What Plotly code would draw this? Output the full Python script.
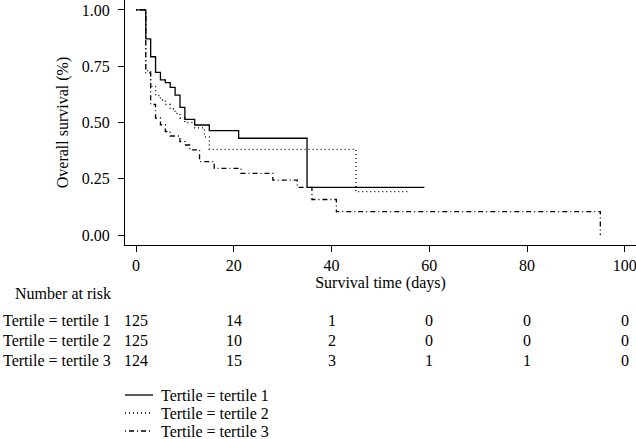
import plotly.graph_objects as go

# Kaplan-Meier step data (time in days, survival probability)
t1_time = [0, 2, 3, 4, 5, 6, 7, 8, 9, 10, 12, 15, 21, 35, 59]
t1_surv = [1.0, 0.871, 0.792, 0.723, 0.689, 0.677, 0.656, 0.622, 0.567, 0.514, 0.489, 0.464, 0.430, 0.212, 0.212]

t2_time = [0, 2, 3, 4, 5, 6, 7, 8, 9, 10, 12, 14, 15, 45, 56]
t2_surv = [1.0, 0.73, 0.66, 0.62, 0.60, 0.58, 0.56, 0.54, 0.52, 0.50, 0.476, 0.436, 0.381, 0.193, 0.193]

t3_time = [0, 2, 3, 4, 5, 6, 7, 9, 10, 11, 13, 16, 21.5, 28, 33, 36, 41, 95, 95]
t3_surv = [1.0, 0.72, 0.58, 0.52, 0.49, 0.46, 0.44, 0.415, 0.40, 0.378, 0.326, 0.296, 0.274, 0.244, 0.212, 0.158, 0.104, 0.104, 0.0]

series_names = ["Tertile = tertile 1", "Tertile = tertile 2", "Tertile = tertile 3"]

# Number at risk table
risk_times = [0, 20, 40, 60, 80, 100]
risk_t1 = [125, 14, 1, 0, 0, 0]
risk_t2 = [125, 10, 2, 0, 0, 0]
risk_t3 = [124, 15, 3, 1, 1, 0]

x_ticks = [0, 20, 40, 60, 80, 100]
y_ticks = [0.0, 0.25, 0.5, 0.75, 1.0]
y_ticktext = ["0.00", "0.25", "0.50", "0.75", "1.00"]

FONT = "Liberation Serif"
FS = 16

W, H = 636, 439
ml, mr, mt, mb = 125, 0, 0, 194
plot_h = H - mt - mb
plot_w = W - ml - mr

def ypix_to_paper(py):
    return (H - mb - py) / plot_h

def xpix_to_paper(px):
    return (px - ml) / plot_w

fig = go.Figure()
styles = [
    dict(color="black", width=1.3, dash="solid"),
    dict(color="black", width=1.3, dash="1px,3px"),
    dict(color="black", width=1.3, dash="1px,3px,5px,3px"),
]
for name, tt, ss, st in zip(series_names, [t1_time, t2_time, t3_time],
                            [t1_surv, t2_surv, t3_surv], styles):
    fig.add_trace(go.Scatter(x=tt, y=ss, mode="lines", line_shape="hv",
                             line=st, name=name, hoverinfo="skip", showlegend=False))

annotations = []
shapes = []
annotations.append(dict(x=xpix_to_paper(113), xref="paper", xanchor="right",
                        y=ypix_to_paper(293), yref="paper", yanchor="middle",
                        text="Number at risk", showarrow=False,
                        font=dict(family=FONT, size=FS, color="black")))
row_y = [320, 340, 360]
for name, vals, py in zip(series_names, [risk_t1, risk_t2, risk_t3], row_y):
    annotations.append(dict(x=xpix_to_paper(113), xref="paper", xanchor="right",
                            y=ypix_to_paper(py), yref="paper", yanchor="middle",
                            text=name, showarrow=False,
                            font=dict(family=FONT, size=FS, color="black")))
    for t, v in zip(risk_times, vals):
        annotations.append(dict(x=t, xref="x", xanchor="center",
                                y=ypix_to_paper(py), yref="paper", yanchor="middle",
                                text=str(v), showarrow=False,
                                font=dict(family=FONT, size=FS, color="black")))

# Legend (drawn manually to match compact spacing)
leg_y = [395, 413, 431]
for name, st, py in zip(series_names, styles, leg_y):
    shapes.append(dict(type="line", xref="paper", yref="paper",
                       x0=xpix_to_paper(125), x1=xpix_to_paper(153),
                       y0=ypix_to_paper(py), y1=ypix_to_paper(py),
                       line=dict(color=st["color"], width=st["width"], dash=st["dash"])))
    annotations.append(dict(x=xpix_to_paper(159), xref="paper", xanchor="left",
                            y=ypix_to_paper(py), yref="paper", yanchor="middle",
                            text=name, showarrow=False,
                            font=dict(family=FONT, size=FS, color="black")))

fig.update_layout(
    width=W, height=H,
    margin=dict(l=ml, r=mr, t=mt, b=mb, autoexpand=False),
    paper_bgcolor="white", plot_bgcolor="white",
    font=dict(family=FONT, size=FS, color="black"),
    xaxis=dict(range=[-2.25, 102.3], tickvals=x_ticks, ticks="outside", ticklen=6,
               tickcolor="black", showline=True, linecolor="black", linewidth=1,
               showgrid=False, zeroline=False, automargin=False,
               ticklabeloverflow="allow",
               title=dict(text="Survival time (days)", standoff=2,
                          font=dict(family=FONT, size=FS))),
    yaxis=dict(range=[-0.044, 1.044], tickvals=y_ticks, ticktext=y_ticktext,
               ticks="outside", ticklen=6, tickcolor="black", ticklabelstandoff=5,
               showline=True, linecolor="black", linewidth=1,
               showgrid=False, zeroline=False, automargin=False,
               title=dict(text="Overall survival (%)", standoff=9,
                          font=dict(family=FONT, size=FS))),
    showlegend=False,
    annotations=annotations,
    shapes=shapes,
)

fig.write_html("out.html", config={"displayModeBar": False},
               post_script="document.body.style.margin='0';document.body.style.padding='0';")
